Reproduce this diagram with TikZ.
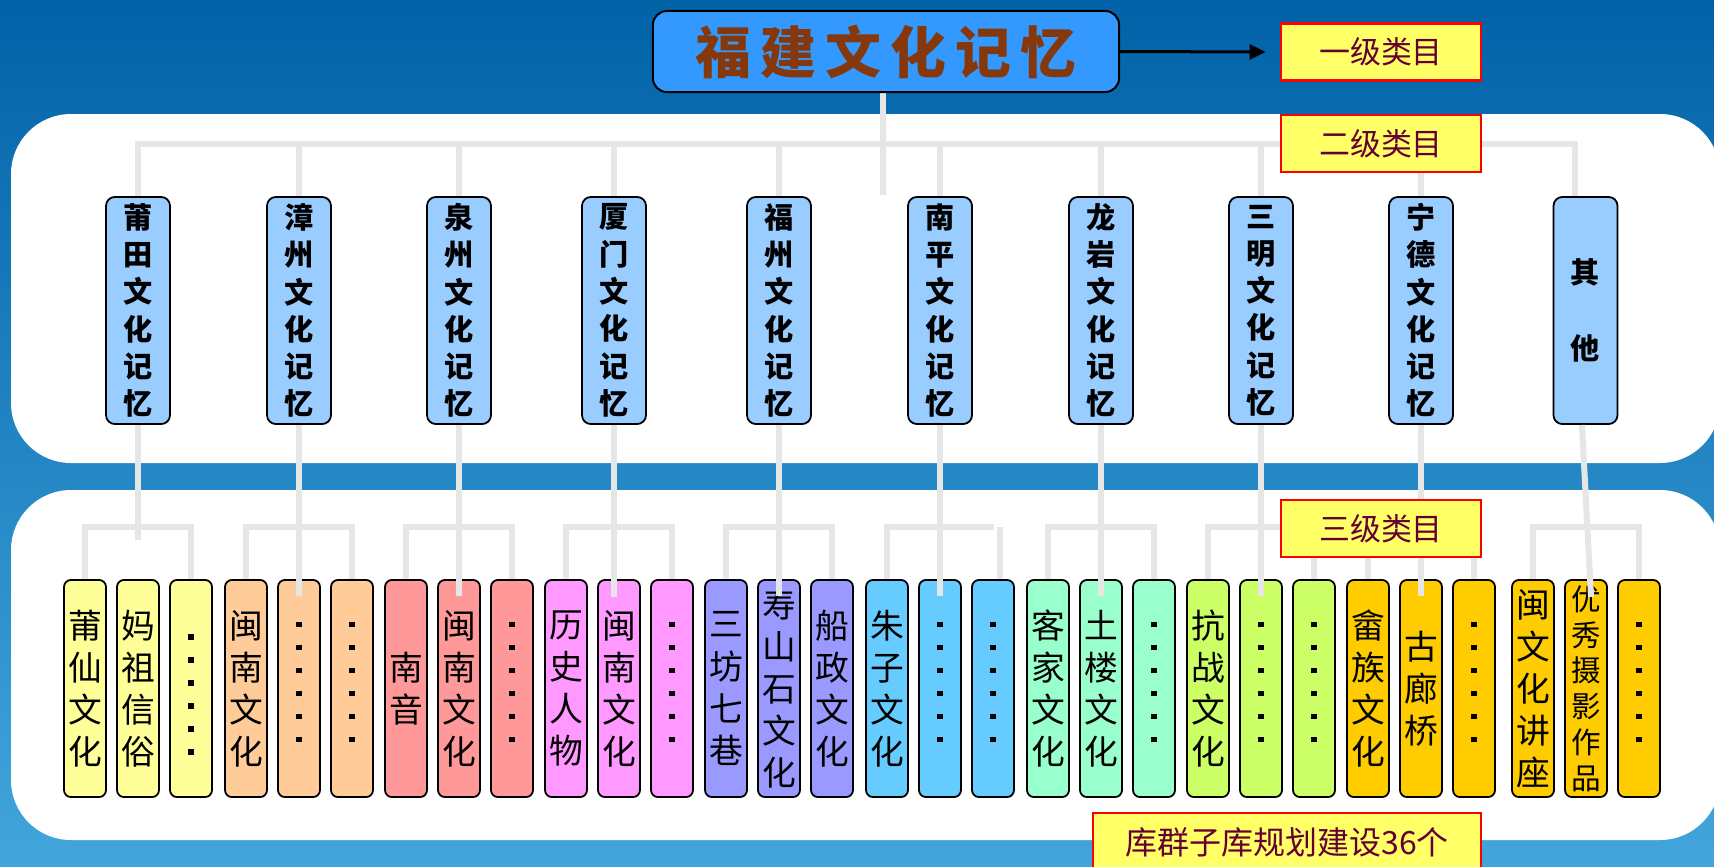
\documentclass[tikz,border=0pt]{standalone}
\usepackage{fontspec}
\newfontfamily\cjk{Noto Sans CJK SC}
\usetikzlibrary{arrows.meta,calc}
\pgfdeclarelayer{backdrop}
\pgfdeclarelayer{links}
\pgfsetlayers{backdrop,links,main}
\definecolor{bgtop}{HTML}{0262A8}
\definecolor{bgbot}{HTML}{42A6DC}
\definecolor{titlefill}{HTML}{3399FF}
\definecolor{titletext}{HTML}{85380C}
\definecolor{ltwo}{HTML}{99CCFF}
\definecolor{labfill}{HTML}{FFFF66}
\definecolor{labtext}{HTML}{660033}
\definecolor{labline}{HTML}{FF0000}
\definecolor{connc}{HTML}{E6E6E6}
\definecolor{gA}{HTML}{FFFF99}
\definecolor{gB}{HTML}{FFCC99}
\definecolor{gC}{HTML}{FF9999}
\definecolor{gD}{HTML}{FF99FF}
\definecolor{gE}{HTML}{9999FF}
\definecolor{gF}{HTML}{66CCFF}
\definecolor{gG}{HTML}{99FFCC}
\definecolor{gH}{HTML}{CCFF66}
\definecolor{gI}{HTML}{FFCC00}
\newcommand\dotcol[2]{\foreach \k in {0,...,5}{\fill ($(#1.center)+(-2.8,#2+23*\k)$) rectangle ++(5.6,5.6);}}
\begin{document}
\begin{tikzpicture}[x=0.01cm,y=-0.01cm,
  titlebox/.style={draw=black, line width=0.02cm, fill=titlefill, rounded corners=0.14cm, minimum width=4.66cm, minimum height=0.81cm, inner sep=0pt, text=titletext, font=\cjk\bfseries\fontsize{15.9}{18}\selectfont},
  lvltwo/.style={draw=black, line width=0.018cm, fill=ltwo, rounded corners=0.09cm, minimum width=0.64cm, minimum height=2.27cm, inner sep=0pt, align=center, font=\cjk\bfseries\fontsize{8.3}{10.6}\selectfont},
  lvlthree/.style={draw=black, line width=0.018cm, rounded corners=0.07cm, minimum width=0.42cm, minimum height=2.17cm, inner sep=0pt, align=center, font=\cjk\fontsize{9.6}{11.95}\selectfont},
  smallthree/.style={font=\cjk\fontsize{8.4}{10.16}\selectfont},
  labbox/.style={draw=labline, line width=0.025cm, fill=labfill, minimum width=2.0cm, minimum height=0.57cm, inner sep=0pt, text=labtext, font=\cjk\fontsize{8.8}{10}\selectfont},
  connline/.style={draw=connc, line width=0.06cm}]
\useasboundingbox (0,0) rectangle (1714,866);
\clip (0,0) rectangle (1714,866);
\begin{pgfonlayer}{backdrop}
\shade[top color=bgtop, bottom color=bgbot] (0,0) rectangle (1714,866);
\fill[white, rounded corners=0.6cm] (11,114) rectangle (1720,463);
\fill[white, rounded corners=0.6cm] (11,490) rectangle (1720,840);
\end{pgfonlayer}

% title
\node[titlebox] (title) at (886,51.5) {福\hspace{0.09cm}建\hspace{0.09cm}文\hspace{0.09cm}化\hspace{0.09cm}记\hspace{0.09cm}忆};

\coordinate (lb) at (0,144);
\coordinate (sb) at (0,527);
\coordinate (t0) at (883,195);

% level-two boxes
\node[lvltwo] (b1) at (138,310.5) {莆\\田\\文\\化\\记\\忆};
\node[lvltwo] (b2) at (299,310.5) {漳\\州\\文\\化\\记\\忆};
\node[lvltwo] (b3) at (459,310.5) {泉\\州\\文\\化\\记\\忆};
\node[lvltwo] (b4) at (614,310.5) {厦\\门\\文\\化\\记\\忆};
\node[lvltwo] (b5) at (779,310.5) {福\\州\\文\\化\\记\\忆};
\node[lvltwo] (b6) at (940,310.5) {南\\平\\文\\化\\记\\忆};
\node[lvltwo] (b7) at (1101,310.5) {龙\\岩\\文\\化\\记\\忆};
\node[lvltwo] (b8) at (1261,310.5) {三\\明\\文\\化\\记\\忆};
\node[lvltwo] (b9) at (1421,310.5) {宁\\德\\文\\化\\记\\忆};
\node[lvltwo] (b10) at (1585.5,310.5) {其\\[0.38cm]他};

% level-one connectors (behind boxes)
\coordinate (b10top) at ([xshift=-0.105cm]b10.north);
\begin{pgfonlayer}{links}
\draw[connline] (b1.north) -- (b1.north |- lb) -- (b10top |- lb) -- (b10top);
\foreach \i in {2,...,9}{\draw[connline] (b\i.north) -- (b\i.north |- lb);}
\draw[connline] (title.south -| t0) -- (t0);
\end{pgfonlayer}

% level-three boxes
\node[lvlthree, fill=gA] (c1) at (85,688.5) {莆\\仙\\文\\化};
\node[lvlthree, fill=gA] (c2) at (138,688.5) {妈\\祖\\信\\俗};
\node[lvlthree, fill=gA] (c3) at (191,688.5) {};
\node[lvlthree, fill=gB] (c4) at (246,688.5) {闽\\南\\文\\化};
\node[lvlthree, fill=gB] (c5) at (299,688.5) {};
\node[lvlthree, fill=gB] (c6) at (352,688.5) {};
\node[lvlthree, fill=gC] (c7) at (406,688.5) {南\\音};
\node[lvlthree, fill=gC] (c8) at (459,688.5) {闽\\南\\文\\化};
\node[lvlthree, fill=gC] (c9) at (512,688.5) {};
\node[lvlthree, fill=gD] (c10) at (566,688.5) {历\\史\\人\\物};
\node[lvlthree, fill=gD] (c11) at (619,688.5) {闽\\南\\文\\化};
\node[lvlthree, fill=gD] (c12) at (672,688.5) {};
\node[lvlthree, fill=gE] (c13) at (726,688.5) {三\\坊\\七\\巷};
\node[lvlthree, fill=gE] (c14) at (779,688.5) {寿\\山\\石\\文\\化};
\node[lvlthree, fill=gE] (c15) at (832,688.5) {船\\政\\文\\化};
\node[lvlthree, fill=gF] (c16) at (887,688.5) {朱\\子\\文\\化};
\node[lvlthree, fill=gF] (c17) at (940,688.5) {};
\node[lvlthree, fill=gF] (c18) at (993,688.5) {};
\node[lvlthree, fill=gG] (c19) at (1048,688.5) {客\\家\\文\\化};
\node[lvlthree, fill=gG] (c20) at (1101,688.5) {土\\楼\\文\\化};
\node[lvlthree, fill=gG] (c21) at (1154,688.5) {};
\node[lvlthree, fill=gH] (c22) at (1208,688.5) {抗\\战\\文\\化};
\node[lvlthree, fill=gH] (c23) at (1261,688.5) {};
\node[lvlthree, fill=gH] (c24) at (1314,688.5) {};
\node[lvlthree, fill=gI] (c25) at (1368,688.5) {畲\\族\\文\\化};
\node[lvlthree, fill=gI] (c26) at (1421,688.5) {古\\廊\\桥};
\node[lvlthree, fill=gI] (c27) at (1474,688.5) {};
\node[lvlthree, fill=gI] (c28) at (1533,688.5) {闽\\文\\化\\讲\\座};
\node[lvlthree, fill=gI, smallthree] (c29) at (1586,688.5) {优\\秀\\摄\\影\\作\\品};
\node[lvlthree, fill=gI] (c30) at (1639,688.5) {};

% dots
\dotcol{c3}{-54.3}
\foreach \c in {c5,c6,c9,c12,c17,c18,c21,c23,c24,c27,c30}{\dotcol{\c}{-66.8}}

% sub-bars
\foreach \a/\b in {c1/c3,c4/c6,c7/c9,c10/c12,c13/c15,c19/c21,c22/c24,c25/c27,c28/c30}{
  \draw[connline] (\a.north) -- (\a.north |- sb) -- (\b.north |- sb) -- (\b.north);}
\coordinate (sbend) at (994,527);
\draw[connline] (c16.north) -- (c16.north |- sb) -- (sbend);
\coordinate (c18top) at ([xshift=0.07cm]c18.north);
\draw[connline] (c18top) -- ++(0,-52);

% level-two to level-three connectors
\coordinate (e1) at (138,540);
\coordinate (e4) at (614,597);
\coordinate (e10) at (1591,597);
\coordinate (b10bot) at ([xshift=-0.035cm]b10.south);
\draw[connline] (b1.south) -- (e1);
\foreach \i/\m in {2/c5,3/c8,5/c14,6/c17,7/c20,8/c23,9/c26}{
  \draw[connline] (b\i.south) -- ([yshift=-0.17cm]\m.north);}
\draw[connline] (b4.south) -- (e4);
\draw[connline] (b10bot) -- (e10);

% labels
\node[labbox] (lab1) at (1381,52) {一级类目};
\node[labbox] (lab2) at (1381,143.5) {二级类目};
\node[labbox] (lab3) at (1381,528.5) {三级类目};
\node[labbox, minimum width=3.88cm, minimum height=0.58cm, font=\cjk\fontsize{9.1}{10}\selectfont] (lab4) at (1287,842) {库群子库规划建设36个};
\draw[line width=0.03cm, -{Triangle[length=0.16cm, width=0.15cm]}] (title.east) -- ([xshift=-0.14cm]lab1.west);
\end{tikzpicture}
\end{document}
